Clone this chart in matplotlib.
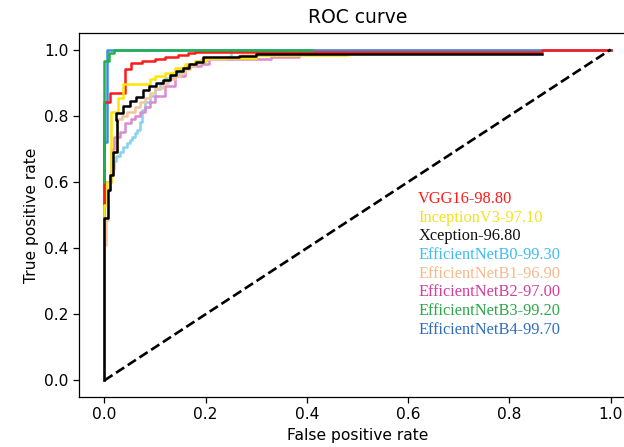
import matplotlib
matplotlib.use("Agg")
import matplotlib.pyplot as plt

# ---- data (step-curve vertices: each point = right end of a horizontal at level tpr) ----
vgg16_fpr = [0, 0.012, 0.04, 0.053, 0.075, 0.10, 0.12, 0.145, 0.165, 0.18, 0.865, 0.865, 1.0]
vgg16_tpr = [0, 0.84, 0.87, 0.94, 0.96, 0.965, 0.97, 0.978, 0.985, 0.99, 0.992, 1.0, 1.0]

incep_fpr = [0, 0.006, 0.014, 0.028, 0.036, 0.09, 0.10, 0.12, 0.14, 0.16, 0.18, 0.20, 0.30, 0.48]
incep_tpr = [0, 0.53, 0.60, 0.81, 0.855, 0.895, 0.91, 0.92, 0.93, 0.945, 0.955, 0.965, 0.975, 0.983]

xcep_fpr = [0, 0.008, 0.012, 0.018, 0.026, 0.024, 0.037, 0.05, 0.063, 0.076, 0.089, 0.102, 0.116,
            0.129, 0.142, 0.155, 0.168, 0.181, 0.195, 0.266, 0.30, 0.865]
xcep_tpr = [0, 0.49, 0.575, 0.62, 0.69, 0.788, 0.808, 0.828, 0.843, 0.858, 0.879, 0.889, 0.899,
            0.909, 0.924, 0.934, 0.944, 0.955, 0.961, 0.976, 0.979, 0.988]

b0_fpr = [0, 0.014, 0.02, 0.024, 0.03, 0.037, 0.044, 0.05, 0.055, 0.06, 0.065, 0.07, 0.075, 0.08,
          0.09, 0.10, 0.11, 0.12, 0.135, 0.15, 0.165, 0.18, 0.20, 0.25, 1.0]
b0_tpr = [0, 0.60, 0.64, 0.662, 0.677, 0.69, 0.707, 0.717, 0.727, 0.737, 0.747, 0.758, 0.78, 0.818,
          0.84, 0.86, 0.88, 0.90, 0.915, 0.93, 0.945, 0.955, 0.965, 0.975, 1.0]

b1_fpr = [0, 0.004, 0.008, 0.012, 0.018, 0.026, 0.035, 0.045, 0.06, 0.07, 0.08, 0.09, 0.10, 0.115,
          0.125, 0.14, 0.15, 0.16, 0.17, 0.18, 0.19, 0.24, 0.27, 0.37, 1.0]
b1_tpr = [0, 0.41, 0.485, 0.575, 0.62, 0.69, 0.79, 0.80, 0.81, 0.825, 0.84, 0.855, 0.87, 0.885,
          0.90, 0.91, 0.92, 0.93, 0.94, 0.95, 0.96, 0.972, 0.976, 0.985, 1.0]

b2_fpr = [0, 0.013, 0.02, 0.03, 0.04, 0.053, 0.06, 0.07, 0.08, 0.09, 0.10, 0.12, 0.14, 0.16, 0.19,
          0.207, 0.33, 0.385, 1.0]
b2_tpr = [0, 0.60, 0.70, 0.736, 0.75, 0.779, 0.79, 0.80, 0.81, 0.825, 0.84, 0.86, 0.89, 0.92, 0.95,
          0.957, 0.97, 0.976, 1.0]

b3_fpr = [0, 0.01, 0.02, 0.41]
b3_tpr = [0.60, 0.965, 0.99, 1.0]

b4_fpr = [0, 0.006, 0.006, 1.0]
b4_tpr = [0, 0.72, 1.0, 1.0]

labels = ["VGG16-98.80", "InceptionV3-97.10", "Xception-96.80", "EfficientNetB0-99.30",
          "EfficientNetB1-96.90", "EfficientNetB2-97.00", "EfficientNetB3-99.20",
          "EfficientNetB4-99.70"]
text_colors = ["#ff1a1a", "#f2e21c", "#111111", "#3fbdf0", "#f6b98c", "#d43c9e", "#2aa84a", "#2e6cc0"]
line_colors = ["#ff1a1a", "#ffe600", "#000000", "#86d2ef", "#f7c49c", "#d98ad2", "#1fb04a", "#3a8ee0"]
zorders = [5, 7, 8, 1, 3, 2, 6, 4]

curves = [(vgg16_fpr, vgg16_tpr), (incep_fpr, incep_tpr), (xcep_fpr, xcep_tpr),
          (b0_fpr, b0_tpr), (b1_fpr, b1_tpr), (b2_fpr, b2_tpr), (b3_fpr, b3_tpr), (b4_fpr, b4_tpr)]

fig = plt.figure(figsize=(6.24, 4.47), dpi=100)
ax = fig.add_axes([79 / 624, 50 / 447, (636 - 79) / 624, (397 - 33) / 447])

ax.plot([0, 1], [0, 1], "k--", lw=1.9, zorder=9)
for (fx, ty), c, z in zip(curves, line_colors, zorders):
    ax.plot(fx, ty, color=c, lw=1.8, drawstyle="steps-pre", zorder=z)

ax.set_xlim(-0.05, 1.05)
ax.set_ylim(-0.05, 1.05)
ax.set_xticks([0, 0.2, 0.4, 0.6, 0.8, 1.0])
ax.set_yticks([0, 0.2, 0.4, 0.6, 0.8, 1.0])
ax.tick_params(labelsize=11.2, length=4, width=0.9)
for s in ax.spines.values():
    s.set_linewidth(0.9)
ax.spines["right"].set_visible(False)
ax.set_title("ROC curve", fontsize=13.5, pad=7)
ax.set_xlabel("False positive rate", fontsize=11.2, labelpad=4)
ax.set_ylabel("True positive rate", fontsize=11.2)

for i, (lab, col) in enumerate(zip(labels, text_colors)):
    ax.text(0.62, 0.548 - i * 0.0564, lab, color=col, fontsize=11.8,
            family=["Liberation Serif", "DejaVu Serif"], va="center", ha="left", zorder=10)

fig.savefig("out.png", dpi=100)
